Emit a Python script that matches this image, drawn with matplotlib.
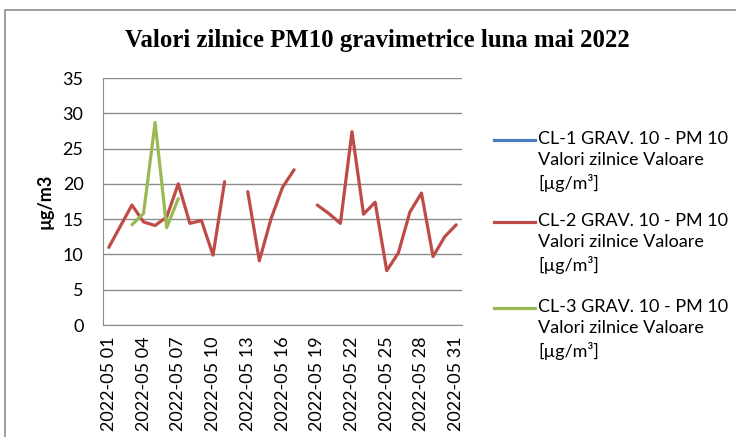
import numpy as np
import matplotlib
matplotlib.use("Agg")
import matplotlib.pyplot as plt
from matplotlib.lines import Line2D
from matplotlib.patches import Rectangle

days = [f"2022-05 {d:02d}" for d in range(1, 32)]
nan = np.nan

# daily PM10 values, ug/m3 (missing days as nan)
cl1 = [nan] * 31
cl2 = [11.0, 14.0, 17.0, 14.6, 14.1, 15.3, 20.0, 14.4, 14.8, 9.9,
       20.3, nan, 18.9, 9.1, 15.0, 19.5, 22.0, nan, 17.0, 15.8,
       14.4, 27.4, 15.7, 17.4, 7.7, 10.2, 16.0, 18.7, 9.7, 12.5, 14.2]
cl3 = [nan, nan, 14.2, 15.8, 28.7, 13.8, 17.9] + [nan] * 24

series_names = ["CL-1 GRAV. 10 - PM 10\nValori zilnice Valoare\n[µg/m³]",
                "CL-2 GRAV. 10 - PM 10\nValori zilnice Valoare\n[µg/m³]",
                "CL-3 GRAV. 10 - PM 10\nValori zilnice Valoare\n[µg/m³]"]
colors = ["#4A7EBB", "#BE4B48", "#98B954"]

fig = plt.figure(figsize=(7.36, 4.37), dpi=100)
ax = fig.add_axes([103 / 736, 1 - 325 / 437, 359 / 736, 247 / 437])

# chart border
fig.add_artist(Rectangle((5 / 736, -0.1), 1.2, 1 - 9.5 / 437 + 0.1,
                         transform=fig.transFigure, fill=False,
                         edgecolor="#8C8C8C", lw=1.2))

x = np.arange(len(days))
for vals, c in zip([cl1, cl2, cl3], colors):
    ax.plot(x, vals, color=c, lw=2.3, solid_capstyle="round", zorder=3)

ax.set_xlim(-0.5, len(days) - 0.5)
ax.set_ylim(0, 35)
ax.set_yticks(range(0, 36, 5))
ax.yaxis.grid(True, color="#8C8C8C", lw=1)
ax.set_axisbelow(True)
for s in ["top", "right"]:
    ax.spines[s].set_visible(False)
for s in ["left", "bottom"]:
    ax.spines[s].set_color("#8C8C8C")
ax.tick_params(axis="y", length=0, labelsize=13, pad=14)
for lab in ax.get_yticklabels():
    lab.set_fontfamily("Lato")

tick_idx = list(range(0, 31, 3))
ax.set_xticks(tick_idx)
ax.set_xticklabels([days[i] for i in tick_idx], rotation=90,
                   fontfamily="Lato", fontsize=13)
ax.tick_params(axis="x", length=0, pad=8)

ax.set_ylabel("µg/m3", fontfamily="Lato", fontweight="bold", fontsize=13)
ax.yaxis.set_label_coords(-0.139, 0.5)

fig.text(377 / 736, 1 - 40 / 437, "Valori zilnice PM10 gravimetrice luna mai 2022",
         ha="center", va="center", fontfamily="Liberation Serif",
         fontweight="bold", fontsize=17.8)

# legend
ys = [140, 222, 308]
for name, c, y in zip(series_names, colors, ys):
    fig.add_artist(Line2D([494 / 736, 535 / 736], [1 - y / 437] * 2,
                          color=c, lw=2.3, transform=fig.transFigure))
    fig.text(538 / 736, 1 - (y - 9) / 437, name, ha="left", va="top",
             fontfamily="Lato", fontsize=13, linespacing=1.38)

fig.savefig("out.png", dpi=100)
